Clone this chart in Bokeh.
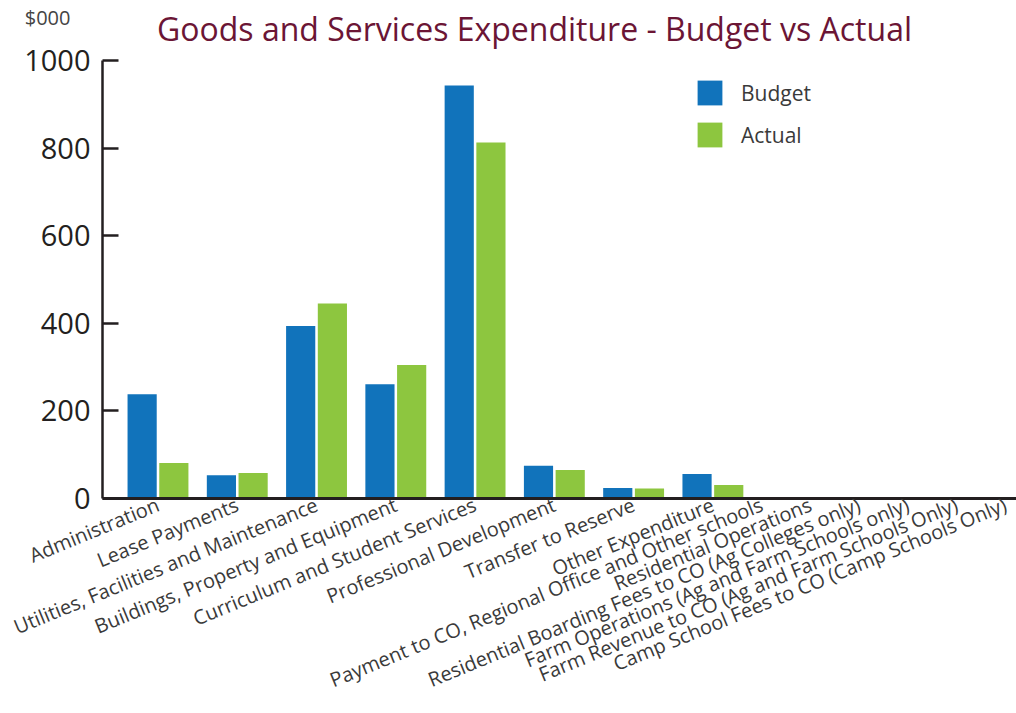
from bokeh.plotting import figure
from bokeh.models import (ColumnDataSource, Range1d, FixedTicker, Label, Legend, LegendItem,
                          LinearAxis)
from bokeh.transform import dodge
from bokeh.embed import file_html
from bokeh.resources import INLINE

# ---- data ----
categories = [
    "Administration",
    "Lease Payments",
    "Utilities, Facilities and Maintenance",
    "Buildings, Property and Equipment",
    "Curriculum and Student Services",
    "Professional Development",
    "Transfer to Reserve",
    "Other Expenditure",
    "Payment to CO, Regional Office and Other schools",
    "Residential Operations",
    "Residential Boarding Fees to CO (Ag Colleges only)",
    "Farm Operations (Ag and Farm Schools only)",
    "Farm Revenue to CO (Ag and Farm Schools Only)",
    "Camp School Fees to CO (Camp Schools Only)",
]
budget = [238, 53, 394, 261, 943, 75, 24, 56, 0, 0, 0, 0, 0, 0]
actual = [81, 58, 445, 305, 813, 65, 23, 31, 0, 0, 0, 0, 0, 0]
y_ticks = [0, 200, 400, 600, 800, 1000]
series_names = ["Budget", "Actual"]
title_text = "Goods and Services Expenditure - Budget vs Actual"
unit_text = "$000"

BLUE = "#1173BB"
GREEN = "#8DC63F"
INK = "#231F20"
LABEL = "#3A3A3A"

FRAME_BOTTOM = 498            # px from canvas top (value 0)
Y_MAX = max(y_ticks)
PX_PER_UNIT = 438 / Y_MAX     # value 1000 sits 60 px below the canvas top

idx = list(range(len(categories)))
src = ColumnDataSource(dict(x=idx, budget=budget, actual=actual))

p = figure(width=1016, height=713, output_backend="svg", toolbar_location=None,
           x_range=Range1d(-0.70, 10.83),
           y_range=Range1d(0, FRAME_BOTTOM / PX_PER_UNIT),
           min_border_left=102, min_border_right=0, min_border_top=0,
           min_border_bottom=713 - FRAME_BOTTOM, background_fill_color="white",
           border_fill_color="white", outline_line_color=None)
p.title.visible = False

rb = p.vbar(x=dodge("x", -0.2, range=p.x_range), top="budget", width=0.368,
            source=src, fill_color=BLUE, line_color=None)
ra = p.vbar(x=dodge("x", 0.2, range=p.x_range), top="actual", width=0.368,
            source=src, fill_color=GREEN, line_color=None)

p.xgrid.visible = False
p.ygrid.visible = False

# y axis (line and ticks limited to 0..1000)
yax = p.yaxis[0]
yax.ticker = FixedTicker(ticks=y_ticks)
yax.bounds = (0, Y_MAX)
yax.minor_tick_line_color = None
yax.major_tick_in = 16
yax.major_tick_out = 0
yax.major_tick_line_width = 2.5
yax.major_tick_line_color = INK
yax.axis_line_width = 2.5
yax.axis_line_color = INK
yax.major_label_text_font = "Open Sans"
yax.major_label_text_font_size = "29px"
yax.major_label_text_color = INK
yax.major_label_standoff = 12

# unit caption "$000" at the top-left, drawn as a label-only axis
unit_pos = round((FRAME_BOTTOM - 17) / PX_PER_UNIT, 1)
unit_axis = LinearAxis(ticker=FixedTicker(ticks=[unit_pos]),
                       major_label_overrides={unit_pos: unit_text},
                       axis_line_color=None, major_tick_line_color=None,
                       minor_tick_line_color=None, major_tick_in=0, major_tick_out=0,
                       major_label_standoff=-49,
                       major_label_text_font="Open Sans",
                       major_label_text_font_size="20px",
                       major_label_text_color="#444444")
p.add_layout(unit_axis, "left")

# x axis: label positions (compressed after the 8th category, as in the original layout)
label_pos = []
for i in idx:
    pos = float(i) if i <= 7 else 7 + 0.615 * (i - 7)
    label_pos.append(round(pos, 3))
xax = p.xaxis[0]
xax.ticker = FixedTicker(ticks=label_pos)
xax.major_label_overrides = {pos: name for pos, name in zip(label_pos, categories)}
xax.major_tick_in = 0
xax.major_tick_out = 0
xax.minor_tick_line_color = None
xax.axis_line_width = 3
xax.axis_line_color = INK
xax.major_label_orientation = 0.39
xax.major_label_text_font = "Open Sans"
xax.major_label_text_font_size = "20px"
xax.major_label_text_color = LABEL
xax.major_label_standoff = 5

# legend
legend = Legend(items=[LegendItem(label=series_names[0], renderers=[rb]),
                       LegendItem(label=series_names[1], renderers=[ra])],
                location=(592, 348), glyph_width=31, glyph_height=31,
                spacing=11, label_standoff=16, padding=0, margin=0,
                border_line_color=None, background_fill_alpha=0,
                label_text_font="Open Sans", label_text_font_size="21px",
                label_text_color=LABEL)
p.add_layout(legend, "center")

# chart title (inside the frame, which reaches the canvas top)
p.add_layout(Label(x=534 - 102, y=FRAME_BOTTOM - 28, x_units="screen", y_units="screen",
                   text=title_text, text_align="center", text_baseline="alphabetic",
                   text_font="Open Sans", text_font_size="32px", text_color="#6B1535"))

open("out.html", "w").write(file_html(p, INLINE))
